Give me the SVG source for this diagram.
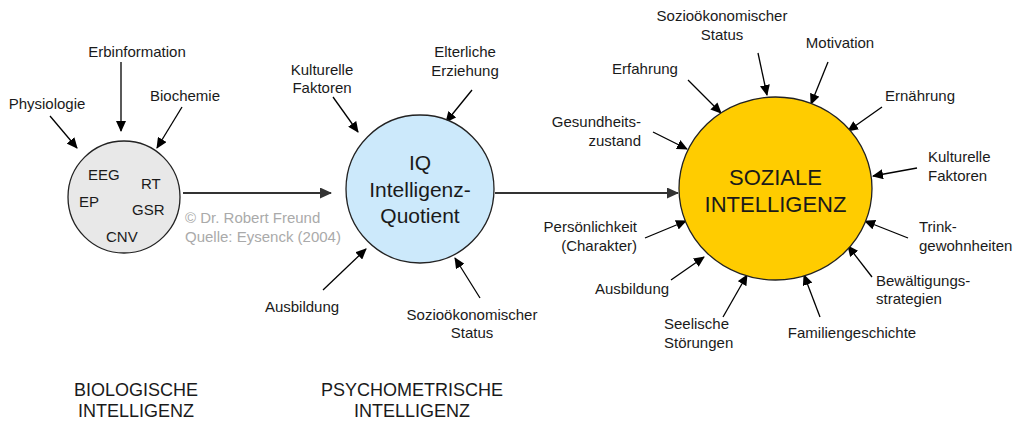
<svg xmlns="http://www.w3.org/2000/svg" width="1024" height="433" viewBox="0 0 1024 433">
<defs>
<marker id="ah" markerUnits="userSpaceOnUse" markerWidth="12" markerHeight="10" refX="10" refY="5" orient="auto"><path d="M0,0 L11,5 L0,10 Z" fill="#000"/></marker>
<marker id="ahb" markerUnits="userSpaceOnUse" markerWidth="13" markerHeight="11" refX="11" refY="5.5" orient="auto"><path d="M0,0 L12,5.5 L0,11 Z" fill="#333"/></marker>
<style>
text{font-family:"Liberation Sans",Arial,sans-serif;font-size:15px;fill:#1a1a1a}
.c{text-anchor:middle}
.r{text-anchor:end}
.big{font-size:21px}
.huge{font-size:22px}
.cap{font-size:18px}
.wm{fill:#aaaaaa}
.node{stroke:#222;stroke-width:1.3}
.a{stroke:#000;stroke-width:1.3;fill:none;marker-end:url(#ah)}
.m{stroke:#333;stroke-width:2;fill:none;marker-end:url(#ahb)}
</style>
</defs>
<rect width="1024" height="433" fill="#fff"/>
<g id="connectors">
<line class="m" x1="183" y1="193" x2="331" y2="193"/>
<line class="m" x1="495" y1="193" x2="678" y2="193"/>
<line class="a" x1="50" y1="116" x2="77" y2="148"/>
<line class="a" x1="121" y1="62" x2="121" y2="131"/>
<line class="a" x1="182" y1="107" x2="157" y2="148"/>
<line class="a" x1="333" y1="97" x2="358" y2="132"/>
<line class="a" x1="472" y1="90" x2="446" y2="122"/>
<line class="a" x1="323" y1="290" x2="366" y2="249"/>
<line class="a" x1="480" y1="298" x2="455" y2="258"/>
<line class="a" x1="758" y1="53" x2="767" y2="95"/>
<line class="a" x1="828" y1="62" x2="811" y2="104"/>
<line class="a" x1="688" y1="80" x2="721" y2="113"/>
<line class="a" x1="882" y1="107" x2="848" y2="131"/>
<line class="a" x1="653" y1="132" x2="687" y2="149"/>
<line class="a" x1="917" y1="168" x2="873" y2="176"/>
<line class="a" x1="645" y1="238" x2="686" y2="221"/>
<line class="a" x1="908" y1="238" x2="865" y2="221"/>
<line class="a" x1="671" y1="280" x2="704" y2="257"/>
<line class="a" x1="872" y1="277" x2="848" y2="246"/>
<line class="a" x1="723" y1="317" x2="747" y2="275"/>
<line class="a" x1="820" y1="317" x2="804" y2="275"/>
</g>
<g id="bio">
<circle class="node" cx="124" cy="197" r="56" fill="#e8e8e8"/>
<text x="88" y="180">EEG</text>
<text x="141" y="189">RT</text>
<text x="79" y="207">EP</text>
<text x="132" y="215">GSR</text>
<text x="106" y="242">CNV</text>
</g>
<g id="iq">
<circle class="node" cx="420" cy="189" r="74" fill="#cce9fb"/>
<text class="c big" x="420" y="170">IQ</text>
<text class="c big" x="420" y="197">Intelligenz-</text>
<text class="c big" x="420" y="223">Quotient</text>
</g>
<g id="sozial">
<ellipse class="node" cx="775.5" cy="188.5" rx="96.5" ry="91.5" fill="#ffcc00"/>
<text class="c huge" x="775.5" y="185">SOZIALE</text>
<text class="c huge" x="775.5" y="212">INTELLIGENZ</text>
</g>
<g id="watermark">
<text class="wm" x="185" y="223">© Dr. Robert Freund</text>
<text class="wm" x="185" y="242">Quelle: Eysenck (2004)</text>
</g>
<g id="bio-labels">
<text class="c" x="47" y="109">Physiologie</text>
<text class="c" x="137" y="57">Erbinformation</text>
<text class="c" x="185" y="101">Biochemie</text>
</g>
<g id="iq-labels">
<text class="c" x="322" y="75">Kulturelle</text>
<text class="c" x="322" y="93">Faktoren</text>
<text class="c" x="465" y="57">Elterliche</text>
<text class="c" x="465" y="76">Erziehung</text>
<text class="c" x="302" y="312">Ausbildung</text>
<text class="c" x="472" y="320">Sozioökonomischer</text>
<text class="c" x="472" y="338">Status</text>
</g>
<g id="sozial-labels">
<text class="c" x="722" y="21">Sozioökonomischer</text>
<text class="c" x="722" y="40">Status</text>
<text class="c" x="840" y="48">Motivation</text>
<text class="c" x="645" y="74">Erfahrung</text>
<text class="c" x="920" y="101">Ernährung</text>
<text class="r" x="641" y="127">Gesundheits-</text>
<text class="r" x="641" y="146">zustand</text>
<text x="928" y="162">Kulturelle</text>
<text x="928" y="181">Faktoren</text>
<text class="r" x="637" y="232">Persönlichkeit</text>
<text class="r" x="637" y="251">(Charakter)</text>
<text x="919" y="232">Trink-</text>
<text x="919" y="251">gewohnheiten</text>
<text class="c" x="632" y="294">Ausbildung</text>
<text x="876" y="286">Bewältigungs-</text>
<text x="876" y="304">strategien</text>
<text x="664" y="329">Seelische</text>
<text x="664" y="348">Störungen</text>
<text class="c" x="852" y="338">Familiengeschichte</text>
</g>
<g id="captions">
<text class="c cap" x="136" y="396">BIOLOGISCHE</text>
<text class="c cap" x="136" y="417">INTELLIGENZ</text>
<text class="c cap" x="412" y="396">PSYCHOMETRISCHE</text>
<text class="c cap" x="412" y="417">INTELLIGENZ</text>
</g>
</svg>
